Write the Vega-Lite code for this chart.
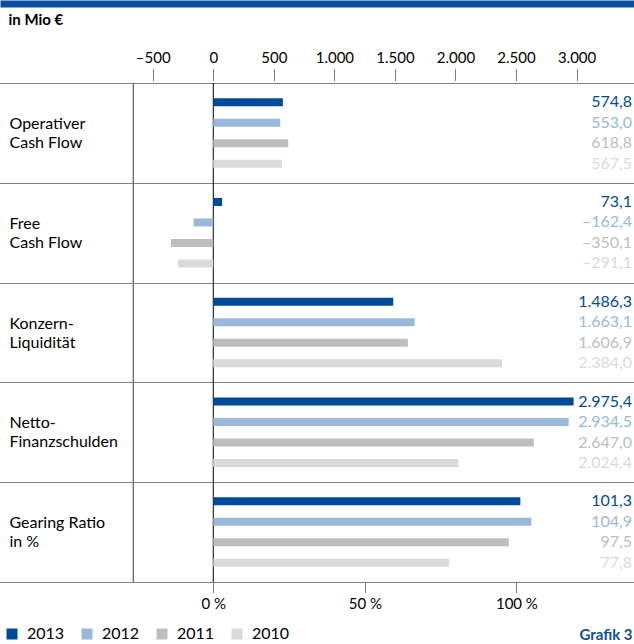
{
  "$schema": "https://vega.github.io/schema/vega-lite/v6.json",
  "width": 634,
  "height": 499,
  "autosize": {"type": "none"},
  "padding": {"left": 0, "top": 83, "right": 0, "bottom": 62},
  "background": "white",
  "config": {
    "locale": {"number": {"decimal": ",", "thousands": ".", "grouping": [3], "currency": ["", " €"], "minus": "–"}},
    "font": "Lato",
    "view": {"stroke": null},
    "axis": {"labelFont": "Lato", "titleFont": "Lato", "labelColor": "black"},
    "legend": {"labelFont": "Lato"}
  },
  "datasets": {
    "d": [
      {"group": "Operativer|Cash Flow", "unit": "Mio", "year": "2013", "value": 574.8},
      {"group": "Operativer|Cash Flow", "unit": "Mio", "year": "2012", "value": 553.0},
      {"group": "Operativer|Cash Flow", "unit": "Mio", "year": "2011", "value": 618.8},
      {"group": "Operativer|Cash Flow", "unit": "Mio", "year": "2010", "value": 567.5},
      {"group": "Free|Cash Flow", "unit": "Mio", "year": "2013", "value": 73.1},
      {"group": "Free|Cash Flow", "unit": "Mio", "year": "2012", "value": -162.4},
      {"group": "Free|Cash Flow", "unit": "Mio", "year": "2011", "value": -350.1},
      {"group": "Free|Cash Flow", "unit": "Mio", "year": "2010", "value": -291.1},
      {"group": "Konzern-|Liquidität", "unit": "Mio", "year": "2013", "value": 1486.3},
      {"group": "Konzern-|Liquidität", "unit": "Mio", "year": "2012", "value": 1663.1},
      {"group": "Konzern-|Liquidität", "unit": "Mio", "year": "2011", "value": 1606.9},
      {"group": "Konzern-|Liquidität", "unit": "Mio", "year": "2010", "value": 2384.0},
      {"group": "Netto-|Finanzschulden", "unit": "Mio", "year": "2013", "value": 2975.4},
      {"group": "Netto-|Finanzschulden", "unit": "Mio", "year": "2012", "value": 2934.5},
      {"group": "Netto-|Finanzschulden", "unit": "Mio", "year": "2011", "value": 2647.0},
      {"group": "Netto-|Finanzschulden", "unit": "Mio", "year": "2010", "value": 2024.4},
      {"group": "Gearing Ratio|in %", "unit": "pct", "year": "2013", "value": 101.3},
      {"group": "Gearing Ratio|in %", "unit": "pct", "year": "2012", "value": 104.9},
      {"group": "Gearing Ratio|in %", "unit": "pct", "year": "2011", "value": 97.5},
      {"group": "Gearing Ratio|in %", "unit": "pct", "year": "2010", "value": 77.8}
    ]
  },
  "layer": [
    {
      "data": {"values": [{}]},
      "mark": {"type": "rule", "color": "black", "strokeWidth": 1},
      "encoding": {
        "x": {
          "datum": 0,
          "type": "quantitative",
          "scale": {"domain": [-1761, 3474], "nice": false, "zero": false},
          "axis": {
            "orient": "top",
            "offset": 79.5,
            "domainWidth": 7,
            "domainColor": "#0b4f9e",
            "labels": false,
            "ticks": false,
            "grid": false,
            "title": "in Mio €",
            "titleAnchor": "start",
            "titleAlign": "left",
            "titleBaseline": "alphabetic",
            "titleX": 8,
            "titleY": 20.5,
            "titleFontSize": 15,
            "titleFontWeight": "bold",
            "titleColor": "black"
          }
        }
      }
    },
    {
      "data": {"name": "d"},
      "transform": [{"filter": "datum.unit == 'Mio'"}],
      "layer": [
        {
          "data": {"values": [{}]},
          "mark": {"type": "rule", "color": "#6e6e6e", "strokeWidth": 1.4},
          "encoding": {"x": {"datum": -660, "type": "quantitative"}}
        },
        {
          "mark": {"type": "bar", "height": 8},
          "encoding": {
            "x": {
              "field": "value",
              "type": "quantitative",
              "scale": {"domain": [-1761, 3474], "nice": false, "zero": false},
              "axis": {
                "orient": "top",
                "offset": 3,
                "values": [-500, 0, 500, 1000, 1500, 2000, 2500, 3000],
                "format": ",d",
                "domain": false,
                "grid": false,
                "ticks": true,
                "tickSize": 12,
                "tickDash": [1, 1],
                "tickColor": "black",
                "labelPadding": 3,
                "labelFontSize": 15,
                "title": null
              }
            },
            "y": {
              "field": "group",
              "type": "nominal",
              "scale": {"domain": ["Operativer|Cash Flow", "Free|Cash Flow", "Konzern-|Liquidität", "Netto-|Finanzschulden", "Gearing Ratio|in %"], "paddingInner": 0, "paddingOuter": 0},
              "axis": {
                "orient": "left",
                "title": null,
                "domain": false,
                "ticks": false,
                "tickBand": "extent",
                "grid": true,
                "gridDash": [1, 1],
                "gridColor": "black",
                "gridWidth": 1,
                "labelAlign": "left",
                "labelBaseline": "middle",
                "labelPadding": -9,
                "labelOffset": -9.5,
                "labelFontSize": 16,
                "labelLineHeight": 19,
                "labelExpr": "split(datum.label, '|')"
              }
            },
            "yOffset": {"field": "year", "type": "nominal", "scale": {"domain": ["2013", "2012", "2011", "2010"], "paddingInner": 0.61, "paddingOuter": 0.74}},
            "color": {
              "field": "year",
              "type": "nominal",
              "scale": {"domain": ["2013", "2012", "2011", "2010"], "range": ["#004b99", "#9ab8da", "#bebebe", "#dadada"]},
              "legend": {
                "orient": "none",
                "legendX": 4,
                "legendY": 543,
                "direction": "horizontal",
                "title": null,
                "symbolType": "square",
                "symbolSize": 121,
                "symbolStrokeWidth": 0,
                "symbolOpacity": 1,
                "labelFontSize": 16,
                "labelOffset": 7,
                "columnPadding": 14,
                "labelColor": "black"
              }
            }
          }
        },
        {
          "mark": {"type": "text", "align": "right", "baseline": "middle", "dx": -2, "fontSize": 16},
          "encoding": {
            "x": {"datum": 3474, "type": "quantitative"},
            "y": {"field": "group", "type": "nominal"},
            "yOffset": {"field": "year", "type": "nominal"},
            "text": {"field": "value", "type": "quantitative", "format": ",.1f"},
            "color": {"field": "year", "type": "nominal"}
          }
        }
      ]
    },
    {
      "data": {"name": "d"},
      "transform": [{"filter": "datum.unit == 'pct'"}],
      "layer": [
        {
          "mark": {"type": "bar", "height": 8},
          "encoding": {
            "x": {
              "field": "value",
              "type": "quantitative",
              "scale": {"domain": [-70.4, 138.8], "nice": false, "zero": false},
              "axis": {
                "orient": "bottom",
                "offset": 1,
                "values": [0, 50, 100],
                "labelExpr": "datum.value + ' %'",
                "domain": false,
                "grid": false,
                "ticks": true,
                "tickSize": 10,
                "tickDash": [1, 1],
                "tickColor": "black",
                "labelPadding": 3,
                "labelFontSize": 15,
                "title": "Grafik 3",
                "titleAnchor": "end",
                "titleAlign": "right",
                "titleBaseline": "alphabetic",
                "titleX": 632,
                "titleY": 56,
                "titleFontSize": 15,
                "titleFontWeight": "bold",
                "titleColor": "#0b4f9e"
              }
            },
            "y": {"field": "group", "type": "nominal"},
            "yOffset": {"field": "year", "type": "nominal"},
            "color": {"field": "year", "type": "nominal"}
          }
        },
        {
          "mark": {"type": "text", "align": "right", "baseline": "middle", "dx": -2, "fontSize": 16},
          "encoding": {
            "x": {"datum": 138.8, "type": "quantitative"},
            "y": {"field": "group", "type": "nominal"},
            "yOffset": {"field": "year", "type": "nominal"},
            "text": {"field": "value", "type": "quantitative", "format": ",.1f"},
            "color": {"field": "year", "type": "nominal"}
          }
        }
      ]
    }
  ],
  "resolve": {"scale": {"x": "independent"}, "axis": {"x": "independent"}}
}
